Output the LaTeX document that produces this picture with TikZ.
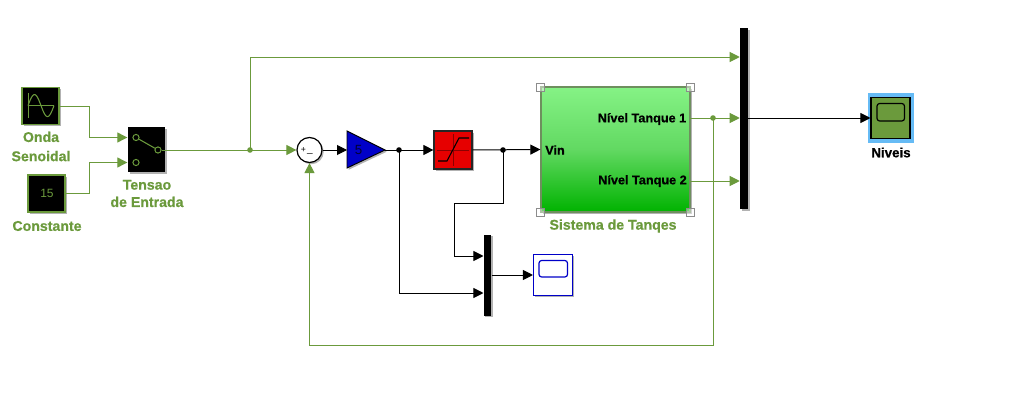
\documentclass[tikz,border=0pt]{standalone}
\usepackage{fontspec}
\setmainfont{Liberation Sans}[BoldFeatures={FakeBold=0.6}]
\usetikzlibrary{arrows.meta,shadows,calc}
\definecolor{gr}{HTML}{6B9A3C}
\definecolor{blu}{HTML}{0000C8}
\definecolor{rd}{HTML}{E60000}
\definecolor{subedge}{HTML}{6E8F5E}
\definecolor{hil}{HTML}{66BBF5}
\def\u{0.75pt}
\tikzset{
  x=0.75pt,y=-0.75pt,
  shad/.style={drop shadow={shadow xshift=1.3pt,shadow yshift=-1.3pt,fill=black,opacity=.3}},
  bl/.style={rectangle,inner sep=0pt,minimum width=#1*\u},
  blk/.style={bl=37,minimum height=37*\u,fill=black,draw=gr,line width=1pt,shad},
  bus/.style={rectangle,inner sep=0pt,fill=black,shad},
  wg/.style={draw=gr,line width=0.75pt,-{Triangle[length=7.5pt,width=7.5pt,fill=gr]}},
  wk/.style={draw=black,line width=0.75pt,-{Triangle[length=7.5pt,width=7.5pt,fill=black]}},
  lg/.style={draw=gr,line width=0.75pt},
  dotg/.style={circle,fill=gr,inner sep=0pt,minimum size=4.2pt},
  dotk/.style={circle,fill=black,inner sep=0pt,minimum size=4.2pt},
  tg/.style={text=gr,font=\bfseries\fontsize{10.6}{12}\selectfont,inner sep=0pt,align=center},
  tk/.style={text=black,font=\bfseries\fontsize{9.5}{11}\selectfont,inner sep=0pt},
  hand/.style={draw=black!45,fill=white,fill opacity=.45,line width=.6pt,inner sep=0pt,minimum size=6pt,rectangle},
  swc/.style={circle,draw=gr,line width=.75pt,fill=black,inner sep=0pt,minimum size=4.6pt},
}
\begin{document}
\begin{tikzpicture}
\useasboundingbox (0,0) rectangle (1011,414);
\fill[white] (0,0) rectangle (1011,414);
% blocks
\node[blk] (sine) at (40.5,106) {};
\draw[gr,line width=.4pt] (28,93)--(28,118) (28,105.6)--(54,105.6);
\draw[gr,line width=.8pt] plot[domain=28:54,samples=40] (\x,{105.6-11*sin((\x-28)/26*360)});
\node[blk] (const) at (46.5,193.5) {};
\node[text=gr,font=\fontsize{9}{10}\selectfont,inner sep=0pt] (cval) at (47,193) {15};
\node[blk,draw=none,minimum height=45*\u] (sw) at (146.5,149.5) {};
\node[swc] (c1) at (136,137.5) {};
\node[swc] (c2) at (136,162.5) {};
\node[swc] (c3) at (158,150) {};
\draw[gr,line width=.8pt] (c1) -- (c3);
\node[circle,draw=black,fill=white,line width=.9pt,inner sep=0pt,minimum size=25*\u,shad] (sum) at (309.5,150) {};
\node[font=\fontsize{6.5}{6}\selectfont,inner sep=0pt] (plus) at (303.5,149.5) {+};
\node[font=\fontsize{7.5}{6}\selectfont,inner sep=0pt] (minus) at (310,153) {\_};
\path[fill=blu,draw=black,line width=.7pt,shad] (347,131) coordinate (gw) -- (347,168) -- (385,150) coordinate (gout) -- cycle;
\coordinate (gin) at (347,150);
\node[font=\fontsize{10}{11}\selectfont,inner sep=0pt,text=black!80!blue] (gval) at (358.5,149.5) {5};
\node[bl=38,minimum height=38*\u,fill=rd,draw=black!85,line width=.9pt,shad] (sat) at (453,150) {};
\draw[black!45!red,line width=.5pt] (437,150)--(469,150) (453,134)--(453,166);
\draw[black,line width=.8pt] (438,161)--(447,161)--(459,138)--(469,138);
\node[bl=149,minimum height=125*\u,draw=subedge,line width=.9pt,top color=green!45!white!95!black,bottom color=green!70!black,middle color=green!55!white!85!black,shad] (sub) at (615.5,149.5) {};
\node[hand] (h1) at (540.5,87) {};
\node[hand] (h2) at (690.5,87) {};
\node[hand] (h3) at (540.5,212) {};
\node[hand] (h4) at (690.5,212) {};
\node[tk,anchor=west] (vin) at (545,150) {Vin};
\node[tk,anchor=east] (n1) at (686.5,119) {Nível Tanque 1};
\node[tk,anchor=east] (n2) at (687,181) {Nível Tanque 2};
\node[bus,minimum width=8*\u,minimum height=181*\u] (bus1) at (744,118.5) {};
\node[bus,minimum width=7.5*\u,minimum height=81*\u] (bus2) at (487.5,275) {};
\node[bl=39,minimum height=41*\u,fill=white,draw=blu,line width=.8pt,shad] (sc2) at (553,275) {};
\draw[blu,line width=.9pt,rounded corners=2pt] (539,260.5) rectangle (567.5,277);
\node[rectangle,inner sep=0pt,fill=hil,minimum width=46*\u,minimum height=50*\u] (hl) at (890.5,118) {};
\node[bl=39,minimum height=41*\u,fill=gr,draw=black,line width=.8pt] (sc1) at (890.5,118) {};
\draw[black,line width=.9pt,rounded corners=2pt] (877,103.5) rectangle (904.5,121);
% labels
\node[tg] (l1) at (41,146.5) {Onda\\[2.4pt]Senoidal};
\node[tg] (l2) at (47,226) {Constante};
\node[tg] (l3) at (147,193.5) {Tensao\\[1pt]de Entrada};
\node[tg] (l4) at (613,226) {Sistema de Tanqes};
\node[tk,font=\bfseries\fontsize{10}{11}\selectfont] (l5) at (891,152.5) {Niveis};
% ports and bends
\coordinate (j1) at (250,150);
\coordinate (j2) at (399,150);
\coordinate (j3) at (503,150);
\coordinate (j4) at (713,118);
\coordinate (suboa) at (690,118);
\coordinate (subob) at (690,181);
% connectors
\draw[wg] (sine.east) -| (89,137.5) -- (sw.west |- c1);
\draw[wg] (const.east) -| (89,162.5) -- (sw.west |- c2);
\draw[lg] (sw.east |- c3) -- (c3);
\draw[wg] (sw.east |- c3) -- (sum.west);
\draw[wg] (j1) |- (bus1.west |- 0,57);
\draw[wk] (sum.east) -- (gin);
\draw[wk] (gout) -- (sat.west);
\draw[wk] (sat.east) -- (sub.west);
\draw[wk] (j3) |- (454,203) |- (bus2.west |- 0,256);
\draw[wk] (j2) |- (bus2.west |- 0,293);
\draw[wk] (bus2.east) -- (sc2.west);
\draw[wg] (suboa) -- (bus1.west |- suboa);
\draw[wg] (subob) -- (bus1.west |- subob);
\draw[wg] (j4) |- (sum.south |- 0,345) -- (sum.south);
\draw[wk] (bus1.east |- sc1) -- (sc1.west);
\node[dotg] (d1) at (j1) {};
\node[dotg] (d4) at (j4) {};
\node[dotk] (d2) at (j2) {};
\node[dotk] (d3) at (j3) {};
\end{tikzpicture}
\end{document}
